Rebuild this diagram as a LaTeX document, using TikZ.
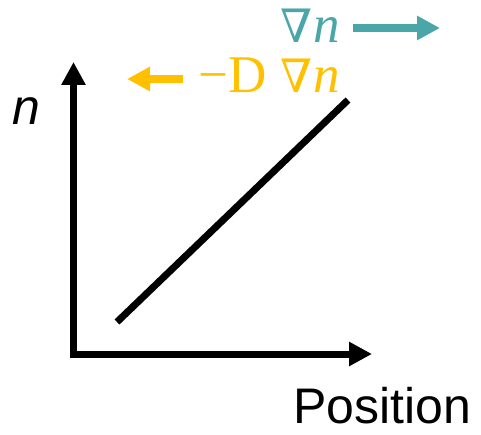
\documentclass[tikz,border=0pt]{standalone}
\usepackage{fontspec}
\newfontfamily\arialfont{Liberation Sans}
\newfontfamily\serifm{Liberation Serif}
\newfontfamily\nablafont{DejaVu Serif}
\usetikzlibrary{arrows.meta}
\definecolor{tealc}{RGB}{75,166,170}
\definecolor{orangec}{RGB}{255,192,0}
\newcommand{\mynabla}{{\nablafont\fontsize{46}{60}\selectfont ∇}}
\begin{document}
\begin{tikzpicture}[x=1pt,y=-1pt,
  axis/.style={line width=7pt,line join=miter},
  fluxarrow/.style={line width=8pt,-{Triangle[length=23pt,width=23pt]}},
  lbl/.style={inner sep=0pt,font=\arialfont\fontsize{50}{60}\selectfont},
  mlbl/.style={inner sep=0pt,font=\serifm\fontsize{53}{60}\selectfont}]
\useasboundingbox (0,0) rectangle (481,435);
\coordinate (ytip) at (73.5,62);
\coordinate (org) at (73.5,354);
\coordinate (xtip) at (372,354);
\draw[axis,{Triangle[length=23pt,width=23pt]}-{Triangle[length=23pt,width=23pt]}] (ytip) -- (org) -- (xtip);
\coordinate (l1) at (117,322);
\coordinate (l2) at (348,100);
\draw[line width=7pt] (l1) -- (l2);
\node[lbl,anchor=base] (ylab) at (26,125) {\itshape n};
\node[lbl,anchor=base] (xlab) at (382.5,423) {Position};
\node[mlbl,anchor=base east,text=tealc] (grad) at (340,43) {\mynabla\kern1pt\itshape n};
\node[mlbl,anchor=base east,text=orangec] (flux) at (340,93) {−D \mynabla\kern1pt\itshape n};
\coordinate (ta) at (353,28);
\coordinate (tb) at (440,28);
\draw[fluxarrow,draw=tealc,fill=tealc] (ta) -- (tb);
\coordinate (oa) at (183,79);
\coordinate (ob) at (127,79);
\draw[fluxarrow,draw=orangec,fill=orangec] (oa) -- (ob);
\end{tikzpicture}
\end{document}
